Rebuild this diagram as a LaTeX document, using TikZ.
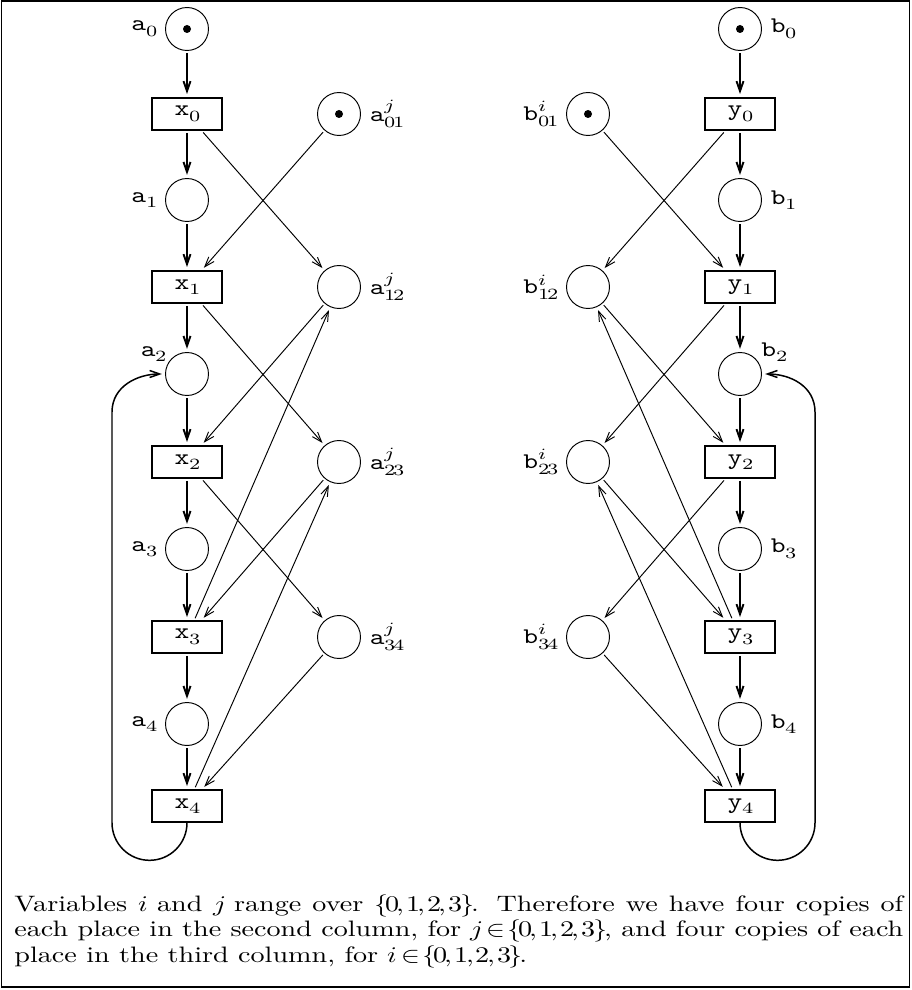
\documentclass[tikz,border=0pt]{standalone}
\usepackage{fontspec}
\usepackage{unicode-math}
\setmainfont{lmroman10-regular.otf}[ItalicFont=lmroman10-italic.otf,BoldFont=lmroman10-bold.otf,FakeStretch=1.26]
\setmonofont{lmmono10-regular.otf}[FakeStretch=1.26]
\setmathfont{latinmodern-math.otf}[FakeStretch=1.26]
\usepackage{tikz}
\usetikzlibrary{arrows.meta}

\begin{document}
\begin{tikzpicture}[x=0.47pt,y=-0.47pt,inner sep=0pt,
    every label/.style={font=\fontsize{10.5pt}{12pt}\selectfont,inner sep=4pt},
    place/.style={draw,circle,line width=0.45pt,minimum size=20.2pt},
    trans/.style={draw,rectangle,line width=0.9pt,minimum width=32.9pt,minimum height=14.9pt,font=\fontsize{10.5pt}{12pt}\selectfont},
    flow/.style={-{Straight Barb[length=4.7pt,width=3.3pt]},line width=0.9pt,shorten <=1pt,shorten >=1.5pt},
    cross/.style={-{Straight Barb[length=4.7pt,width=3.3pt]},line width=0.45pt,shorten <=1pt,shorten >=1.5pt},
    loopback/.style={-{Straight Barb[length=4.7pt,width=3.3pt]},line width=0.7pt,shorten >=1.5pt}]
        \useasboundingbox (0,0) rectangle (911,990);
\draw[line width=0.9pt] (1.5,1) rectangle (909.5,987);
\draw (187,29) node[place,label=left:{\texttt{a}$_0$}](a0) {};
\fill (a0) circle[radius=4];
\draw (187,114) node[trans](x0) {\texttt{x}$_0$};
\draw[flow] (a0) -- (x0);
\draw (339,114) node[place,label=right:{\texttt{a}$^j_{01}$}](a01) {};
\fill (a01) circle[radius=4];
\draw (187,200) node[place,label=left:{\texttt{a}$_1$}](a1) {};
\draw[flow] (x0) -- (a1);
\draw (187,287) node[trans](x1) {\texttt{x}$_1$};
\draw[flow] (a1) -- (x1);
\draw (339,287) node[place,label=right:{\texttt{a}$^j_{12}$}](a12) {};
\draw[cross] (x0) -- (a12);
\draw[cross] (a01) -- (x1);
\draw (187,374) node[place,label={[inner sep=0pt,label distance=1pt]150:{\texttt{a}$_2$}}](a2) {};
\draw[flow] (x1) -- (a2);
\draw (187,462) node[trans](x2) {\texttt{x}$_2$};
\draw[flow] (a2) -- (x2);
\draw (339,462) node[place,label=right:{\texttt{a}$^j_{23}$}](a23) {};
\draw[cross] (x1) -- (a23);
\draw[cross] (a12) -- (x2);
\draw (187,549) node[place,label=left:{\texttt{a}$_3$}](a3) {};
\draw[flow] (x2) -- (a3);
\draw (187,637) node[trans](x3) {\texttt{x}$_3$};
\draw[flow] (a3) -- (x3);
\draw (339,637) node[place,label=right:{\texttt{a}$^j_{34}$}](a34) {};
\draw[cross] (x2) -- (a34);
\draw[cross] (a23) -- (x3);
\draw[cross] (x3) -- (a12);
\draw (187,724) node[place,label=left:{\texttt{a}$_4$}](a4) {};
\draw[flow] (x3) -- (a4);
\draw (187,806) node[trans](x4) {\texttt{x}$_4$};
\draw[flow] (a4) -- (x4);
\draw[cross] (a34) -- (x4);
\draw[cross] (x4) -- (a23);
\draw[loopback] (x4.south) arc[start angle=0,end angle=180,radius=37.5] -- (112,412) .. controls (112,386) and (138,374) .. (a2);
\draw (740,29) node[place,label=right:{\texttt{b}$_0$}](b0) {};
\fill (b0) circle[radius=4];
\draw (740,114) node[trans](y0) {\texttt{y}$_0$};
\draw[flow] (b0) -- (y0);
\draw (588,114) node[place,label=left:{\texttt{b}$^i_{01}$}](b01) {};
\fill (b01) circle[radius=4];
\draw (740,200) node[place,label=right:{\texttt{b}$_1$}](b1) {};
\draw[flow] (y0) -- (b1);
\draw (740,287) node[trans](y1) {\texttt{y}$_1$};
\draw[flow] (b1) -- (y1);
\draw (588,287) node[place,label=left:{\texttt{b}$^i_{12}$}](b12) {};
\draw[cross] (y0) -- (b12);
\draw[cross] (b01) -- (y1);
\draw (740,374) node[place,label={[inner sep=0pt,label distance=1pt]30:{\texttt{b}$_2$}}](b2) {};
\draw[flow] (y1) -- (b2);
\draw (740,462) node[trans](y2) {\texttt{y}$_2$};
\draw[flow] (b2) -- (y2);
\draw (588,462) node[place,label=left:{\texttt{b}$^i_{23}$}](b23) {};
\draw[cross] (y1) -- (b23);
\draw[cross] (b12) -- (y2);
\draw (740,549) node[place,label=right:{\texttt{b}$_3$}](b3) {};
\draw[flow] (y2) -- (b3);
\draw (740,637) node[trans](y3) {\texttt{y}$_3$};
\draw[flow] (b3) -- (y3);
\draw (588,637) node[place,label=left:{\texttt{b}$^i_{34}$}](b34) {};
\draw[cross] (y2) -- (b34);
\draw[cross] (b23) -- (y3);
\draw[cross] (y3) -- (b12);
\draw (740,724) node[place,label=right:{\texttt{b}$_4$}](b4) {};
\draw[flow] (y3) -- (b4);
\draw (740,806) node[trans](y4) {\texttt{y}$_4$};
\draw[flow] (b4) -- (y4);
\draw[cross] (b34) -- (y4);
\draw[cross] (y4) -- (b23);
\draw[loopback] (y4.south) arc[start angle=180,end angle=0,radius=37.5] -- (815,412) .. controls (815,386) and (790,374) .. (b2);
\node[anchor=base west,text width=417.8pt,align=justify,font=\fontsize{10.5pt}{12.1pt}\selectfont] (caption) at (14,911) {Variables $i$ and $j$ range over $\{0,1,2,3\}$. Therefore we have four copies of\linebreak each place in the second column, for $j\in\{0,1,2,3\}$, and four copies of each\linebreak place in the third column, for $i\in\{0,1,2,3\}$.};
    \end{tikzpicture}
\end{document}
